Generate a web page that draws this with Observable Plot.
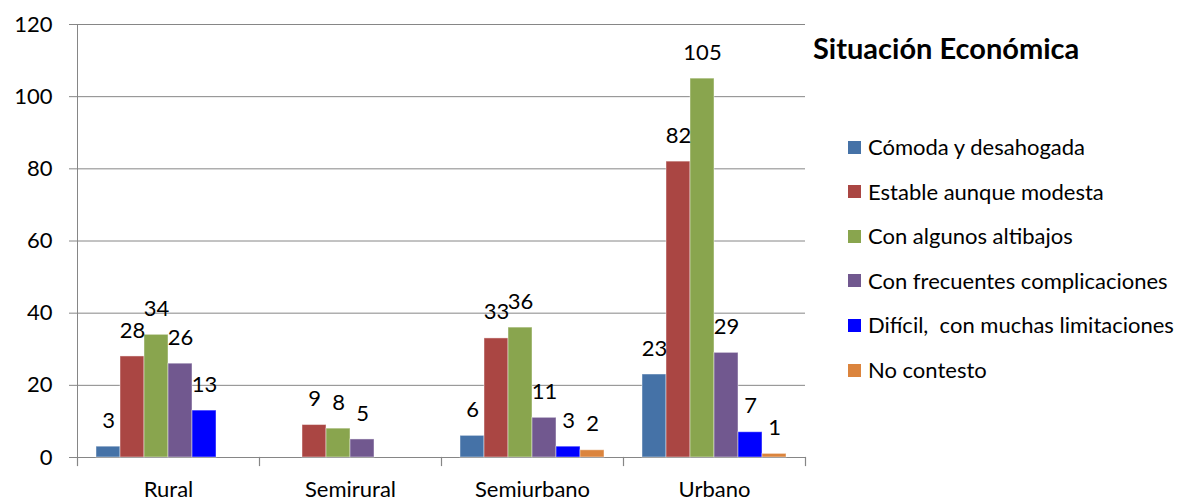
<!DOCTYPE html>
<html><head><meta charset="utf-8">
<script src="https://cdn.jsdelivr.net/npm/d3@7"></script>
<script src="https://cdn.jsdelivr.net/npm/@observablehq/plot@0.6"></script>
<style>
body{margin:0;background:#fff;font-family:Lato,sans-serif;}
#wrap{position:relative;width:1181px;height:502px;overflow:hidden;}
#chart{position:absolute;left:0;top:0;}
#legend{position:absolute;left:813px;top:0;color:#000;}
#legend .title{position:absolute;left:0;top:33px;font-weight:bold;font-size:29px;line-height:30px;white-space:pre;}
#legend .item{position:absolute;left:35px;height:30px;line-height:30px;font-size:22px;white-space:pre;display:flex;align-items:center;}
#legend .sw{width:13px;height:13px;margin-right:7px;flex:none;}
</style></head><body>
<div id="wrap"><div id="chart"></div><div id="legend"></div></div>
<script>
const categories = ["Rural", "Semirural", "Semiurbano", "Urbano"];
const series = ["Cómoda y desahogada", "Estable aunque modesta", "Con algunos altibajos", "Con frecuentes complicaciones", "Difícil,  con muchas limitaciones", "No contesto"];
const colors = ["#4572A7", "#AA4643", "#89A54E", "#71588F", "#0000FF", "#DB843D"];
const rural = [3, 28, 34, 26, 13, 0];
const semirural = [0, 9, 8, 5, 0, 0];
const semiurbano = [6, 33, 36, 11, 3, 2];
const urbano = [23, 82, 105, 29, 7, 1];
const yTicks = [0, 20, 40, 60, 80, 100, 120];
const legendTitle = "Situación Económica";

const valuesByCategory = [rural, semirural, semiurbano, urbano];
const table = categories.flatMap((c, i) => series.map((s, j) => ({category: c, series: s, value: valuesByCategory[i][j]}))).filter(d => d.value > 0);

const W = 810, H = 502, mT = 24, mB = 45;
const plotH = H - mT - mB;
const grid = "#868686";

const chart = Plot.plot({
  width: W, height: H, marginTop: mT, marginBottom: mB, marginLeft: 76, marginRight: 5,
  style: {fontFamily: "Lato, sans-serif", fontSize: "22px", color: "#000", background: "#fff"},
  fx: {domain: categories, padding: 0, label: null},
  x: {domain: series, paddingInner: 0, paddingOuter: 0.74, axis: null},
  y: {domain: [0, 120], label: null},
  color: {domain: series, range: colors},
  marks: [
    Plot.ruleY(yTicks, {stroke: grid, strokeWidth: 1}),
    Plot.frame({anchor: "left", facetAnchor: "left", stroke: grid}),
    Plot.frame({anchor: "left", insetTop: plotH, insetBottom: -8, stroke: grid, strokeWidth: 1.2}),
    Plot.frame({anchor: "right", facetAnchor: "right", insetTop: plotH, insetBottom: -8, stroke: grid, strokeWidth: 1.2}),
    Plot.axisY({ticks: yTicks, tickSize: 8, tickPadding: 17, stroke: grid, fill: "#000", fontSize: 22, label: null}),
    Plot.axisFx({anchor: "bottom", tickSize: 0, tickPadding: 24, fill: "#000", fontSize: 22, label: null}),
    Plot.barY(table, {fx: "category", x: "series", y: "value", fill: "series", stroke: "white", strokeOpacity: 0.45, strokeWidth: 1}),
    Plot.text(table, {fx: "category", x: "series", y: "value", text: d => String(d.value), dy: -26, fontSize: 22, fill: "#000"})
  ]
});
document.getElementById("chart").appendChild(chart);

const legend = document.getElementById("legend");
const t = document.createElement("div");
t.className = "title"; t.textContent = legendTitle;
legend.appendChild(t);
series.forEach((s, i) => {
  const it = document.createElement("div");
  it.className = "item";
  it.style.top = (132 + i * 44.6) + "px";
  const sw = document.createElement("span");
  sw.className = "sw"; sw.style.background = colors[i];
  const tx = document.createElement("span");
  tx.textContent = s;
  it.appendChild(sw); it.appendChild(tx);
  legend.appendChild(it);
});
</script>
</body></html>
